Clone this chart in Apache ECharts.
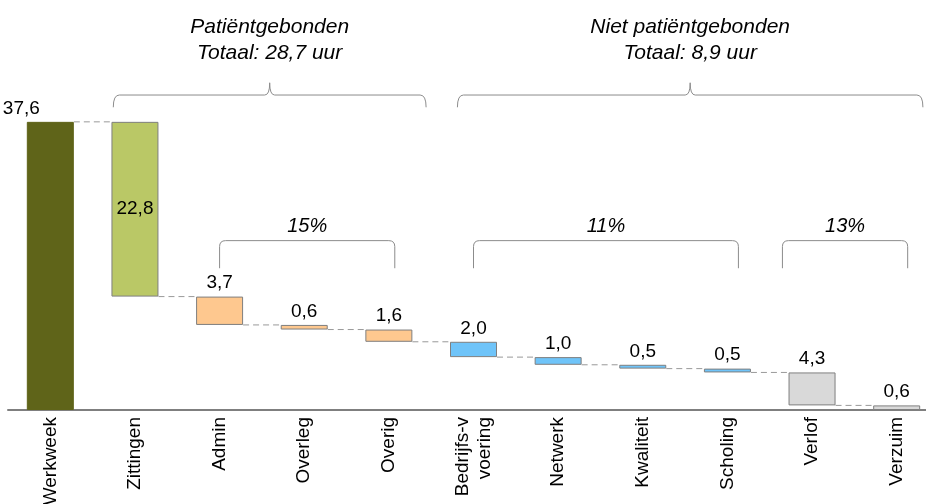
<!DOCTYPE html>
<html>
<head>
<meta charset="utf-8">
<script src="https://cdn.jsdelivr.net/npm/echarts@6/dist/echarts.min.js"></script>
<style>
  html, body { margin: 0; padding: 0; background: #fff; }
  #chart { width: 926px; height: 504px; }
</style>
</head>
<body>
<div id="chart"></div>
<script>
// categorieen en uren per week
const categories = ['Werkweek', 'Zittingen', 'Admin', 'Overleg', 'Overig',
  'Bedrijfs-v\nvoering', 'Netwerk', 'Kwaliteit', 'Scholing', 'Verlof', 'Verzuim'];
const hours = [37.6, 22.8, 3.7, 0.6, 1.6, 2.0, 1.0, 0.5, 0.5, 4.3, 0.6];
const groups = ['totaal', 'zitting', 'patient', 'patient', 'patient',
  'niet', 'niet', 'niet', 'niet', 'afwezig', 'afwezig'];

// accolades: [van, tot] in categorie-posities
const topBraces = [
  { from: 0.744, to: 4.44, lines: ['Patiëntgebonden', 'Totaal: 28,7 uur'] },
  { from: 4.81, to: 10.31, lines: ['Niet patiëntgebonden', 'Totaal: 8,9 uur'] }
];
const pctBrackets = [
  { from: 2.0, to: 4.07, text: '15%' },
  { from: 5.0, to: 8.13, text: '11%' },
  { from: 8.65, to: 10.13, text: '13%' }
];

const colors = {
  totaal: '#5f6419',
  zitting: '#bac866',
  patient: '#fec88f',
  niet: '#6fc4f9',
  afwezig: '#d9d9d9'
};

// waterval: basis van iedere balk
const base = [];
let rest = hours[0];
hours.forEach((h, i) => {
  if (i === 0) { base.push(0); return; }
  rest = Math.round((rest - h) * 10) / 10;
  base.push(rest);
});
const tops = hours.map((h, i) => Math.round((base[i] + h) * 10) / 10);
const connectors = [];
for (let i = 0; i < hours.length - 1; i++) {
  connectors.push([i, tops[i + 1]]);
}

const fmt = v => v.toFixed(1).replace('.', ',');
const FONT = '"Liberation Sans", Arial, sans-serif';
const BAR_W = 47;

const chart = echarts.init(document.getElementById('chart'));

const option = {
  animation: false,
  grid: { left: 8, width: 931, top: 0, height: 410, outerBoundsMode: 'none', containLabel: false },
  xAxis: {
    type: 'category',
    data: categories,
    axisTick: { show: false },
    axisLine: { lineStyle: { color: '#7f7f7f', width: 2 } },
    axisLabel: {
      rotate: 90,
      margin: 7,
      interval: 0,
      color: '#000',
      fontSize: 19,
      fontFamily: FONT,
      lineHeight: 22
    }
  },
  yAxis: { type: 'value', min: 0, max: 53.5, show: false },
  series: [
    {
      type: 'bar',
      stack: 'w',
      barWidth: BAR_W,
      silent: true,
      itemStyle: { color: 'transparent' },
      data: base
    },
    {
      type: 'bar',
      stack: 'w',
      barWidth: BAR_W,
      data: hours.map((h, i) => ({
        value: h,
        itemStyle: {
          color: colors[groups[i]],
          borderColor: i === 0 ? '#5f6419' : '#7f7f7f',
          borderWidth: 1
        },
        label: i === 1 ? { position: 'inside' } : (i === 0 ? { offset: [-29, 0] } : {})
      })),
      label: {
        show: true,
        position: 'top',
        distance: 4,
        color: '#000',
        fontSize: 19,
        fontFamily: FONT,
        formatter: p => fmt(p.value)
      }
    },
    {
      type: 'custom',
      silent: true,
      data: connectors,
      renderItem: (params, api) => {
        const i = api.value(0);
        const lvl = api.value(1);
        const a = api.coord([i, lvl]);
        const b = api.coord([i + 1, lvl]);
        return {
          type: 'line',
          shape: { x1: a[0] + BAR_W / 2, y1: a[1], x2: b[0] - BAR_W / 2, y2: b[1] },
          style: { stroke: '#999999', lineWidth: 1, lineDash: [6, 4] }
        };
      }
    }
  ]
};
chart.setOption(option);

// annotaties: accolades en teksten
const x0 = chart.convertToPixel({ xAxisIndex: 0 }, 0);
const step = chart.convertToPixel({ xAxisIndex: 0 }, 1) - x0;
const px = c => x0 + c * step;
const py = v => chart.convertToPixel({ yAxisIndex: 0 }, v);

const graphics = [];
const stroke = { stroke: '#8c8c8c', lineWidth: 1, fill: null };
const seg = (x1, y1, x2, y2) => graphics.push({ type: 'line', shape: { x1, y1, x2, y2 }, style: stroke });
const curve = (x1, y1, cx, cy, x2, y2) => graphics.push({
  type: 'bezierCurve', shape: { x1, y1, x2, y2, cpx1: cx, cpy1: cy }, style: stroke
});

topBraces.forEach(b => {
  const x1 = px(b.from), x2 = px(b.to), xc = (x1 + x2) / 2;
  const yl = py(41.1), ye = py(39.5), yt = py(42.7);
  curve(x1, ye, x1, yl, x1 + 6, yl);
  seg(x1 + 6, yl, xc - 5, yl);
  curve(xc - 5, yl, xc, yl, xc, yt);
  curve(xc, yt, xc, yl, xc + 5, yl);
  seg(xc + 5, yl, x2 - 6, yl);
  curve(x2 - 6, yl, x2, yl, x2, ye);
  b.lines.forEach((t, k) => {
    graphics.push({
      type: 'text',
      style: {
        text: t, x: xc, y: py(50.0) + k * 26,
        align: 'center', verticalAlign: 'middle',
        font: `italic 21px ${FONT}`, fill: '#000'
      }
    });
  });
});

pctBrackets.forEach(b => {
  const x1 = px(b.from), x2 = px(b.to), xc = (x1 + x2) / 2;
  const yl = py(22.1), ye = py(18.5);
  seg(x1, ye, x1, yl + 6);
  curve(x1, yl + 6, x1, yl, x1 + 6, yl);
  seg(x1 + 6, yl, x2 - 6, yl);
  curve(x2 - 6, yl, x2, yl, x2, yl + 6);
  seg(x2, yl + 6, x2, ye);
  graphics.push({
    type: 'text',
    style: {
      text: b.text, x: xc, y: py(24.0),
      align: 'center', verticalAlign: 'middle',
      font: `italic 20px ${FONT}`, fill: '#000'
    }
  });
});

chart.setOption({ graphic: graphics });
</script>
</body>
</html>
